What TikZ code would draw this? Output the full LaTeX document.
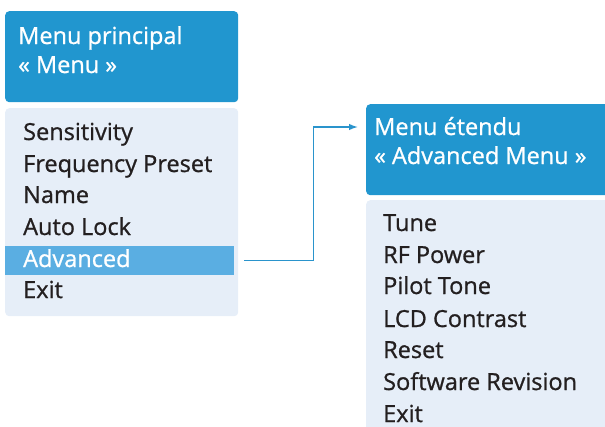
\documentclass[tikz,border=0pt]{standalone}
\usepackage{fontspec}
\setmainfont{Open Sans}
\newfontfamily\menufam{Open Sans}[BoldFont=Open Sans, BoldFeatures={FakeBold=0.9}]
\usetikzlibrary{positioning,arrows.meta}

\definecolor{headblue}{HTML}{2196CF}
\definecolor{listbg}{HTML}{E6EEF8}
\definecolor{selblue}{HTML}{5AAEE2}
\definecolor{itemtext}{HTML}{231F20}
\definecolor{linkblue}{HTML}{2A94CC}

\newcommand{\menufont}{\menufam\bfseries\fontsize{23.5}{30}\selectfont}

\tikzset{
  headbox/.style={fill=headblue, rounded corners=4pt, anchor=north west, inner sep=0pt},
  listbox/.style={fill=listbg, rounded corners=4pt, anchor=north west, inner sep=0pt},
  selbar/.style={fill=selblue, anchor=north west, inner sep=0pt},
  title/.style={anchor=base west, inner sep=0pt, text=white, font=\menufont},
  item/.style={anchor=base west, inner sep=0pt, text=itemtext, font=\menufont},
  link/.style={draw=linkblue, line width=1.4pt, -{Latex[length=9pt,width=6.5pt]}},
}

\begin{document}
\begin{tikzpicture}[x=1pt,y=-1pt]
  \useasboundingbox (0,0) rectangle (605,426);
  \clip (0,0) rectangle (605,426);

  % Menu principal
  \node[headbox, minimum width=233pt, minimum height=91pt] (mainhead) at (5,11) {};
  \node[title] (maintitle) at (18,44) {Menu principal};
  \node[title] (mainsub) at (18,73) {« Menu »};

  \node[listbox, minimum width=233pt, minimum height=208pt] (mainlist) at (5,108) {};
  \node[selbar, minimum width=229pt, minimum height=29pt] (advbar) at (5,246) {};
  \node[item] (sens) at (23,140) {Sensitivity};
  \node[item] (freq) at (23,172) {Frequency Preset};
  \node[item] (name) at (23,203) {Name};
  \node[item] (lock) at (23,235) {Auto Lock};
  \node[item, text=white] (adv) at (23,267) {Advanced};
  \node[item] (exitmain) at (23,298) {Exit};

  % Menu etendu
  \node[headbox, minimum width=260pt, minimum height=91pt] (advhead) at (366,104) {};
  \node[title] (advtitle) at (374,135) {Menu étendu};
  \node[title] (advsub) at (374,164) {« Advanced Menu »};

  \node[listbox, minimum width=260pt, minimum height=240pt] (advlist) at (366,200) {};
  \node[item] (tune) at (383,231) {Tune};
  \node[item] (rfpow) at (383,263) {RF Power};
  \node[item] (pilot) at (383,294) {Pilot Tone};
  \node[item] (lcd) at (383,327) {LCD Contrast};
  \node[item] (reset) at (383,358) {Reset};
  \node[item] (softrev) at (383,390) {Software Revision};
  \node[item] (exitadv) at (383,422) {Exit};

  % lien
  \coordinate (entry) at ([xshift=-8pt]advhead.west |- 0,127);
  \draw[link] ([xshift=10pt]advbar.east) -- ++(69,0) |- (entry);
\end{tikzpicture}
\end{document}
